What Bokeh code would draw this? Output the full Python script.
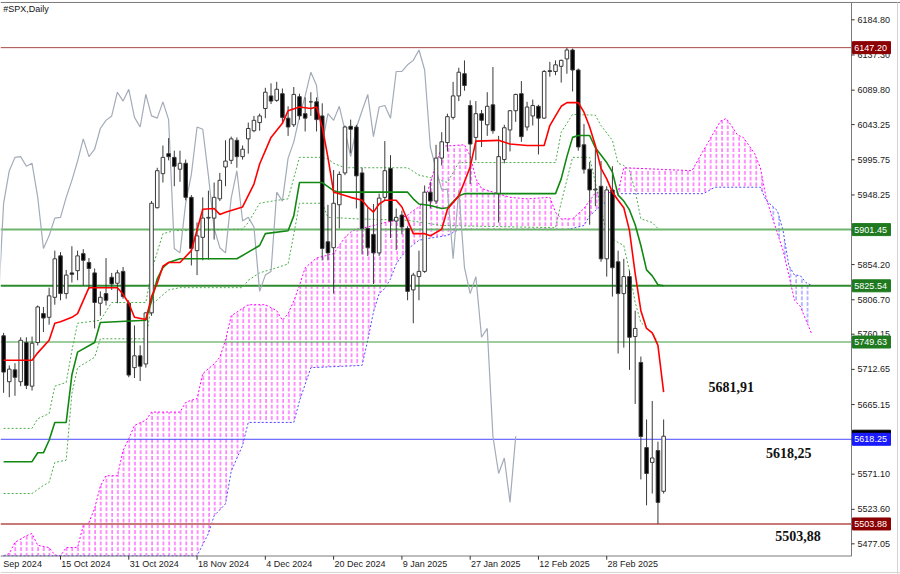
from bokeh.plotting import figure
from bokeh.models import Range1d
from bokeh.embed import file_html
from bokeh.resources import INLINE
from bokeh.core.properties import value

# ---------------- data ----------------
bar_index = list(range(-10, 107))   # 0 = 15 Oct 2024 ... 106 = 14 Mar 2025

opens = [5758, 5696, 5712, 5696, 5749, 5690, 5749, 5788, 5783, 5810,
         5866, 5815, 5843, 5846, 5869, 5857, 5843, 5802, 5815, 5837, 5829, 5845, 5802,
         5715, 5731, 5720, 5789, 5931, 5977, 6004, 5999, 5983, 5991, 5945, 5873, 5891,
         5917, 5917, 5943, 5986, 5995, 6022, 6000, 6024,
         6035, 6046, 6065, 6082, 6076, 6085, 6052, 6043, 6081, 6058, 6074, 6074, 6055,
         5885, 5877, 5935, 5978, 6041, 6040, 5978, 5903,
         5895, 5870, 5945, 5984, 5913, 5921, 5903, 5820, 5838, 5845, 5952, 5940, 5998,
         6019, 6053, 6082, 6112, 6069, 6026, 6058, 6043, 6070,
         5950, 5996, 6036, 6062, 6085, 6040, 6055, 6068, 6052, 6116, 6115, 6122, 6132,
         6144, 6117, 6016, 5983, 5955, 5960, 5862,
         5955, 5858, 5815, 5838, 5757, 5722, 5607, 5587, 5603, 5548]
highs = [5762, 5718, 5721, 5756, 5756, 5757, 5799, 5797, 5823, 5873,
         5871, 5847, 5879, 5873, 5875, 5863, 5849, 5818, 5863, 5843, 5847, 5851, 5806,
         5772, 5745, 5790, 5940, 5985, 6015, 6025, 6008, 6008, 5996, 5948, 5911, 5945,
         5954, 5965, 5978, 6022, 6027, 6026, 6015, 6046,
         6055, 6058, 6093, 6099, 6101, 6092, 6068, 6094, 6085, 6080, 6087, 6080, 6072,
         5935, 5982, 5980, 6042, 6050, 6043, 5985, 5931,
         5936, 5950, 6021, 6002, 5930, 5927, 5906, 5843, 5873, 5961, 5966, 6016, 6033,
         6058, 6101, 6120, 6130, 6076, 6075, 6063, 6087, 6121,
         6028, 6043, 6063, 6085, 6102, 6074, 6077, 6070, 6117, 6128, 6130, 6131, 6147,
         6146, 6119, 6044, 5993, 6010, 5994, 5960,
         5987, 5873, 5862, 5846, 5792, 5730, 5645, 5670, 5615, 5645]
lows = [5681, 5675, 5677, 5690, 5686, 5684, 5745, 5763, 5773, 5800,
        5806, 5808, 5830, 5833, 5826, 5821, 5768, 5785, 5799, 5820, 5802, 5808, 5702,
        5701, 5697, 5715, 5785, 5930, 5965, 5995, 5960, 5966, 5941, 5853, 5840, 5860,
        5861, 5888, 5940, 5960, 5990, 5985, 5996, 6004,
        6033, 6035, 6052, 6071, 6074, 6047, 6028, 6040, 6050, 6034, 6055, 6034, 5860,
        5860, 5815, 5903, 5975, 6005, 5930, 5868, 5866,
        5828, 5866, 5940, 5890, 5874, 5895, 5806, 5775, 5806, 5843, 5930, 5936, 5988,
        6007, 6050, 6075, 6089, 5963, 5995, 6013, 6028, 6031,
        5911, 5991, 6007, 6047, 6020, 6035, 6042, 6003, 6051, 6108, 6110, 6100, 6112,
        6088, 6008, 5977, 5908, 5933, 5858, 5838,
        5811, 5734, 5742, 5712, 5666, 5564, 5529, 5545, 5504, 5545]
closes = [5709, 5713, 5702, 5752, 5691, 5748, 5797, 5782, 5812, 5862,
          5815, 5840, 5841, 5866, 5860, 5849, 5803, 5810, 5806, 5828, 5843, 5811, 5705,
          5731, 5717, 5789, 5937, 5981, 5999, 6000, 5987, 5991, 5945, 5876, 5893, 5917,
          5918, 5945, 5968, 5994, 6024, 6000, 6010, 6038,
          6049, 6055, 6087, 6075, 6091, 6053, 6040, 6084, 6055, 6052, 6074, 6050, 5876,
          5870, 5937, 5976, 6040, 6037, 5974, 5903, 5877,
          5870, 5944, 5981, 5913, 5918, 5905, 5818, 5840, 5845, 5952, 5940, 5998, 6020,
          6054, 6082, 6114, 6096, 6017, 6058, 6049, 6068, 6035,
          6000, 6039, 6062, 6084, 6027, 6067, 6069, 6052, 6115, 6115, 6124, 6130, 6144,
          6117, 6013, 5983, 5955, 5956, 5862, 5955,
          5850, 5815, 5838, 5756, 5768, 5622, 5572, 5593, 5533, 5622.41]

tick_index = [0, 12, 24, 36, 48, 60, 72, 84, 96]
tick_labels = ["15 Oct 2024", "31 Oct 2024", "18 Nov 2024", "4 Dec 2024", "20 Dec 2024",
               "9 Jan 2025", "27 Jan 2025", "12 Feb 2025", "28 Feb 2025"]
first_label = "Sep 2024"
price_ticks = [6184.80, 6137.30, 6089.80, 6043.25, 5995.75, 5948.25, 5900.70, 5854.20,
               5806.70, 5760.15, 5712.65, 5665.15, 5618.10, 5571.10, 5523.60, 5477.05]

tenkan_x = [-10, -5, -4, -2, -1, 0, 2, 3, 5, 10, 11, 12, 13, 15, 16, 17, 18, 19, 21, 23, 25, 27,
            28, 29, 32, 34, 35, 37, 39, 40, 42, 44, 45, 46, 47, 48, 49, 51, 53, 54, 55, 56, 57,
            59, 60, 61, 62, 64, 65, 67, 68, 70, 71, 72, 73, 77, 79, 82, 85, 86, 87, 88, 89, 91,
            92, 93, 94, 95, 96, 97, 98, 99, 100, 101, 102, 103, 104, 105, 106]
tenkan_y = [5725, 5725, 5735, 5752, 5775, 5777, 5783, 5788, 5823, 5823, 5814, 5802, 5783, 5780,
            5811, 5829, 5852, 5857, 5857, 5873, 5929, 5930, 5922, 5925, 5932, 5963, 5990, 6026,
            6045, 6062, 6067, 6065, 6067, 6040, 5999, 5952, 5950, 5945, 5941, 5932, 5925, 5936,
            5941, 5941, 5932, 5914, 5896, 5896, 5893, 5902, 5929, 5947, 5966, 5986, 6021, 6022,
            6017, 6015, 6015, 6042, 6055, 6068, 6073, 6073, 6060, 6040, 6015, 5984, 5970, 5952,
            5941, 5931, 5900, 5842, 5792, 5768, 5762, 5745, 5681.91]

kijun_x = [-10, -5, -4, -3, -2, -1, 1, 2, 3, 6, 7, 15, 16, 17, 18, 19, 21, 31, 33, 35, 36, 40,
           41, 42, 46, 48, 49, 61, 62, 63, 65, 67, 68, 70, 71, 87, 88, 89, 90, 91, 93, 94, 96,
           97, 98, 99, 100, 101, 102, 103, 104, 105, 106]
kijun_y = [5588, 5588, 5600, 5600, 5617, 5641, 5641, 5705, 5736, 5749, 5776, 5779, 5805, 5835,
           5850, 5857, 5862, 5862, 5871, 5880, 5896, 5900, 5920, 5965, 5965, 5954, 5952, 5952,
           5943, 5936, 5934, 5930, 5931, 5947, 5950, 5950, 5970, 6000, 6026, 6028.5, 6028.5,
           6012, 5992, 5979, 5948, 5940, 5928, 5908, 5880, 5847, 5839, 5827, 5825.54]

upper_dot_x = [-10, -5, -4, -2, -1, 1, 2, 3, 7, 9, 15, 16, 18, 20, 32, 33, 35, 38, 40, 42, 46,
               47, 48, 50, 61, 63, 66, 68, 70, 87, 88, 90, 94, 95, 97, 98, 99, 100, 101, 102,
               104, 105]
upper_dot_y = [5633, 5633, 5646, 5653, 5690, 5695, 5738, 5775, 5779, 5803, 5803, 5846, 5896,
               5900, 5902, 5911, 5937, 5941, 5943, 5999, 5999, 5997, 5991, 5985, 5985, 5975,
               5970, 5965, 5992, 5992, 6033, 6057, 6056, 6042, 6022, 5991, 5988, 5981, 5954,
               5916, 5911, 5903]

lower_dot_x = [-10, -5, -3, -2, -1, 1, 2, 3, 6, 7, 15, 16, 19, 21, 32, 33, 35, 38, 40, 41, 42,
               46, 47, 52, 61, 67, 87, 88, 90, 93, 94, 96, 98, 99, 100, 101, 102, 104, 105]
lower_dot_y = [5545, 5545, 5556, 5560, 5587, 5590, 5680, 5715, 5729, 5754, 5754, 5800, 5820,
               5823, 5823, 5833, 5843, 5850, 5855, 5895, 5937, 5937, 5918, 5916, 5914, 5907,
               5904, 5938, 5999, 5999, 5965, 5895, 5884, 5880, 5845, 5803, 5776, 5762, 5749.63]

span_a_x = [-10, -9, -8, -6, -5, -4, -2, -1, 0, 1, 3, 4, 5, 6, 7, 8, 10, 11, 12, 13, 15, 16, 21,
            22, 23, 24, 25, 27, 28, 29, 30, 32, 33, 36, 38, 39, 40, 41, 42, 43, 45, 48, 50, 51,
            52, 54, 55, 57, 59, 61, 62, 63, 64, 65, 66, 67, 71, 72, 73, 74, 79, 82, 86, 87, 88,
            90, 92, 94, 98, 99, 102, 111, 112, 115, 116, 117, 118, 119, 120, 122, 123, 124, 125,
            127, 128, 129, 130, 132]
span_a_y = [5461, 5464, 5479, 5488, 5491, 5475, 5472, 5462, 5461, 5472, 5472, 5502, 5506, 5525,
            5555, 5569, 5569, 5603, 5619, 5637, 5644, 5655, 5655, 5668, 5671, 5673, 5707, 5720,
            5729, 5752, 5785, 5795, 5800, 5800, 5792, 5779, 5788, 5805, 5826, 5850, 5863, 5869,
            5891, 5898, 5902, 5905, 5907, 5911, 5914, 5921, 5927, 5932, 5940, 5965, 5990, 6014,
            6016, 6001, 5970, 5957, 5945, 5943, 5945, 5925, 5916, 5916, 5930, 5951, 5952, 5985,
            5984, 5981, 5995, 6035, 6048, 6051.5, 6041, 6029, 6026, 6004, 5985, 5945, 5920, 5873,
            5840, 5806, 5798, 5761]

span_b_x = [-10, 23, 24, 26, 27, 29, 30, 32, 33, 41, 42, 44, 53, 54, 55, 56, 57, 58, 59, 60, 61,
            63, 65, 68, 70, 89, 92, 93, 95, 98, 113, 115, 123, 124, 126, 127, 128, 129, 130, 131,
            132]
span_b_y = [5461, 5461, 5461, 5491, 5515, 5531, 5575, 5610, 5641, 5641, 5670, 5715, 5718, 5752,
            5790, 5815, 5822, 5835, 5855, 5866, 5875, 5887, 5890, 5893.5, 5901.45, 5901.45,
            5907, 5920, 5934, 5950, 5950, 5958.7, 5958.7, 5941, 5927, 5900, 5853, 5840, 5839.5,
            5830, 5826]

level_values = [6147.20, 5901.45, 5825.54, 5749.63, 5618.25, 5503.88]
level_texts = ["6147.20", "5901.45", "5825.54", "5749.63", "5618.25", "5503.88"]
current_price = 5622.41
current_text = "5622.41"
note_texts = ["5681,91", "5618,25", "5503,88"]
chikou_shift = 26
cloud_twist = 124

# ---------------- geometry (bar index / price at the picture edges) ----------------
X_LEFT, X_RIGHT, X_BORDER, X_WINDOW = -10.545, 147.63, 139.02, 147.1
Y_BOTTOM, Y_TOP = 5435.63, 6210.87
Y_FRAME_BOTTOM, Y_FRAME_TOP, Y_WINDOW = 5460.6, 6208.2, 5438.4

p = figure(width=900, height=574, output_backend="svg", toolbar_location=None,
           x_range=Range1d(X_LEFT, X_RIGHT), y_range=Range1d(Y_BOTTOM, Y_TOP),
           x_axis_location=None, y_axis_location=None,
           min_border_left=0, min_border_right=0, min_border_top=0, min_border_bottom=0)
p.grid.visible = False
p.outline_line_color = None

# ---------------- cloud ----------------
bull_x = [x for x in span_a_x if x <= cloud_twist] + [x for x in span_b_x if x <= cloud_twist][::-1]
bull_y = [y for x, y in zip(span_a_x, span_a_y) if x <= cloud_twist] + \
         [y for x, y in zip(span_b_x, span_b_y) if x <= cloud_twist][::-1]
bear_x = [x for x in span_b_x if x >= cloud_twist] + [x for x in span_a_x if x >= cloud_twist][::-1]
bear_y = [y for x, y in zip(span_b_x, span_b_y) if x >= cloud_twist] + \
         [y for x, y in zip(span_a_x, span_a_y) if x >= cloud_twist][::-1]
p.patch(bull_x, bull_y, fill_alpha=0, line_alpha=0, hatch_pattern=":",
        hatch_color="#ff00ff", hatch_scale=5.7, hatch_weight=1, hatch_alpha=0.85)
p.patch(bear_x, bear_y, fill_alpha=0, line_alpha=0, hatch_pattern=":",
        hatch_color="#5a5aff", hatch_scale=5.7, hatch_weight=1, hatch_alpha=0.85)
p.line(span_a_x, span_a_y, line_color="#ff00ff", line_width=1, line_dash="2 2")
p.line(span_b_x, span_b_y, line_color="#4d4dff", line_width=1, line_dash="2 2")

# ---------------- horizontal levels ----------------
level_colors = ["#a84848", "#6db56d", "#2e8b2e", "#3c9c3c", "#4a4aff", "#c87a7a"]
level_widths = [1, 2, 2, 1, 1, 2]
p.segment(x0=[X_LEFT] * 6, y0=level_values, x1=[X_BORDER] * 6, y1=level_values,
          line_color=level_colors, line_width=level_widths)

# ---------------- indicator lines ----------------
p.line(upper_dot_x, upper_dot_y, line_color="#4cae4c", line_width=1, line_dash="2 2")
p.line(lower_dot_x, lower_dot_y, line_color="#4cae4c", line_width=1, line_dash="2 2")
p.line([i - chikou_shift for i in bar_index], closes, line_color="#a3abb8", line_width=1.2)

# ---------------- candles ----------------
body_top = [max(o, c) for o, c in zip(opens, closes)]
body_bot = [min(o, c) for o, c in zip(opens, closes)]
body_col = ["white" if c >= o else "black" for o, c in zip(opens, closes)]
p.segment(bar_index, lows, bar_index, highs, line_color="#3a3a3a", line_width=1)
p.vbar(x=bar_index, width=0.62, top=body_top, bottom=body_bot, fill_color=body_col,
       line_color="#3a3a3a", line_width=1)

p.line(kijun_x, kijun_y, line_color="#118811", line_width=1.6)
p.line(tenkan_x, tenkan_y, line_color="#ff0000", line_width=1.6)

# ---------------- frame ----------------
p.segment(x0=[X_BORDER, X_LEFT, X_LEFT], y0=[Y_FRAME_BOTTOM, Y_FRAME_BOTTOM, Y_FRAME_TOP],
          x1=[X_BORDER, X_BORDER, X_RIGHT], y1=[Y_FRAME_TOP, Y_FRAME_BOTTOM, Y_FRAME_TOP],
          line_color="#7a7a7a", line_width=1)
p.segment(x0=[X_WINDOW, X_LEFT], y0=[Y_BOTTOM, Y_WINDOW], x1=[X_WINDOW, X_RIGHT],
          y1=[Y_FRAME_TOP, Y_WINDOW], line_color="#d4d4d4", line_width=1)

# price scale (right)
p.segment(x0=[X_BORDER] * len(price_ticks), y0=price_ticks,
          x1=[X_BORDER + 0.55] * len(price_ticks), y1=price_ticks,
          line_color="#333333", line_width=1)
p.text(x=[X_BORDER + 1.05] * len(price_ticks), y=price_ticks,
       text=["%.2f" % v for v in price_ticks], text_font=value("Liberation Sans"),
       text_font_size="9px", text_color="#1a1a1a", text_baseline="middle", text_align="left")

# time scale (bottom)
p.segment(x0=tick_index, y0=[Y_FRAME_BOTTOM] * len(tick_index), x1=tick_index,
          y1=[Y_FRAME_BOTTOM - 5.0] * len(tick_index), line_color="#333333", line_width=1)
p.text(x=[t + 0.15 for t in tick_index] + [X_LEFT + 0.5], y=[5449.2] * (len(tick_index) + 1),
       text=tick_labels + [first_label], text_font=value("Liberation Sans"),
       text_font_size="9px", text_color="#1a1a1a", text_baseline="middle", text_align="left")

# price tags: the current-price tag first, the level tags drawn over it
tag_font = dict(text_font=value("Liberation Sans"), text_font_size="9px", text_color="white",
                text_baseline="middle", text_align="left")
p.rect(x=[142.53], y=[current_price], width=38, height=12, width_units="screen",
       height_units="screen", fill_color="#000000", line_color="#000000")
p.text(x=[X_BORDER + 0.5], y=[current_price], text=[current_text], **tag_font)
tag_bg = ["#8b0000", "#1f7a1f", "#1f7a1f", "#1f7a1f", "#1a1aff", "#8b0000"]
for v, t, bg in zip(level_values, level_texts, tag_bg):
    p.rect(x=[142.53], y=[v], width=38, height=12, width_units="screen",
           height_units="screen", fill_color=bg, line_color=bg)
    p.text(x=[X_BORDER + 0.5], y=[v], text=[t], **tag_font)

# annotations
p.text(x=[113.9, 124.0, 125.6], y=[5688.2, 5599.5, 5487.3], text=note_texts,
       text_font=value("Liberation Serif"), text_font_style="bold", text_font_size="14px",
       text_color="#111111", text_baseline="middle", text_align="left")
p.text(x=[X_LEFT + 0.5], y=[6200.0], text=["#SPX,Daily"], text_font=value("Liberation Sans"),
       text_font_size="9px", text_color="#111111", text_baseline="middle", text_align="left")

open("out.html", "w").write(file_html(p, INLINE))
